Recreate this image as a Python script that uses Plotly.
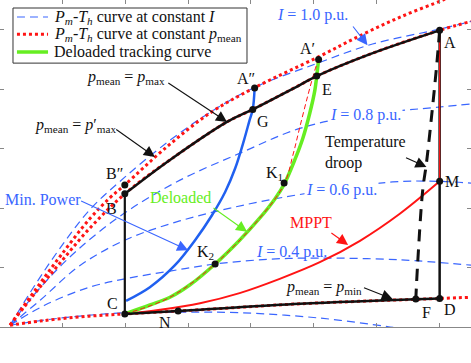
import plotly.graph_objects as go

# ---- constant-current curves (blue dashed) ----
i10_x = [0.16, 0.56, 0.96, 1.43, 1.99, 2.71, 3.35, 4.06, 5.02, 5.94, 7.01, 7.51]
i10_y = [0.03, 0.71, 1.33, 1.97, 2.52, 3.14, 3.61, 4.03, 4.42, 4.76, 5.01, 5.14]
i08_x = [0.16, 0.64, 1.23, 1.99, 2.87, 3.82, 4.78, 5.74, 7.01, 7.51]
i08_y = [0.03, 0.66, 1.29, 1.92, 2.47, 2.92, 3.34, 3.56, 3.70, 3.75]
i06_x = [0.16, 0.64, 1.27, 1.99, 2.79, 3.67, 4.73, 6.26, 7.01, 7.51]
i06_y = [0.03, 0.45, 1.03, 1.46, 1.76, 2.00, 2.22, 2.44, 2.45, 2.42]
i04_x = [0.16, 0.72, 1.43, 1.99, 2.71, 3.43, 4.30, 5.10, 6.37, 7.51]
i04_y = [0.03, 0.37, 0.67, 0.81, 0.94, 1.06, 1.14, 1.16, 1.13, 1.04]
i02_x = [0.16, 0.96, 1.99, 2.87, 3.82, 5.10, 6.22, 6.70]
i02_y = [0.03, 0.15, 0.24, 0.25, 0.24, 0.15, 0.00, -0.08]

# ---- constant mean-power curves (red dotted) ----
pmaxp_x = [0.16, 0.56, 0.96, 1.43, 1.75, 1.99, 2.66, 3.35, 4.05, 5.07, 5.78, 6.42, 7.06, 7.33]
pmaxp_y = [0.03, 0.62, 1.19, 1.82, 2.17, 2.39, 3.03, 3.60, 4.02, 4.54, 4.92, 5.23, 5.50, 5.63]
pmax_x = [0.16, 0.56, 0.96, 1.43, 1.99, 2.71, 3.62, 4.03, 4.78, 5.05, 5.90, 7.01, 7.51]
pmax_y = [0.03, 0.57, 1.08, 1.66, 2.24, 2.81, 3.45, 3.66, 4.07, 4.22, 4.59, 4.99, 5.14]
pmin_x = [0.16, 0.64, 1.27, 1.99, 3.19, 4.78, 7.01, 7.51]
pmin_y = [0.03, 0.10, 0.17, 0.22, 0.29, 0.39, 0.48, 0.50]

# ---- operating trajectories ----
mppt_x = [1.99, 2.55, 3.19, 3.82, 4.46, 5.10, 5.74, 6.37, 7.01]
mppt_y = [0.22, 0.29, 0.40, 0.57, 0.81, 1.09, 1.45, 1.90, 2.45]
am_x = [7.01, 7.01]
am_y = [4.99, 2.45]
minp_x = [2.01, 2.39, 2.79, 3.11, 3.38, 3.59, 3.75, 3.89, 3.98, 4.03, 4.06]
minp_y = [0.44, 0.67, 1.04, 1.46, 1.88, 2.27, 2.67, 3.14, 3.48, 3.66, 4.02]
del_x = [1.99, 2.39, 2.71, 3.03, 3.43, 3.82, 4.14, 4.38, 4.53, 4.70, 4.83, 4.94, 5.02, 5.05, 5.08]
del_y = [0.22, 0.37, 0.50, 0.71, 1.06, 1.46, 1.83, 2.15, 2.40, 2.81, 3.18, 3.60, 3.98, 4.22, 4.50]
delr_x = [1.99, 2.71, 3.43, 4.14, 4.53, 4.67, 4.78, 4.91, 5.02, 5.08]
delr_y = [0.22, 0.50, 1.06, 1.83, 2.40, 2.89, 3.36, 3.90, 4.32, 4.50]
droop_x = [7.01, 6.96, 6.88, 6.80, 6.74, 6.66, 6.63]
droop_y = [4.99, 4.37, 3.53, 2.76, 2.30, 1.08, 0.47]
bc_x = [1.99, 1.99]
bc_y = [2.24, 0.22]
ad_x = [7.01, 7.01]
ad_y = [4.99, 0.48]

# ---- labelled points ----
pt_names = ["A", "A′", "A″", "B", "B″", "C", "D", "E", "F", "G", "K<sub>1</sub>", "K<sub>2</sub>", "M", "N"]
pt_x = [7.01, 5.08, 4.06, 1.99, 1.99, 1.99, 7.01, 5.05, 6.63, 4.03, 4.53, 3.43, 7.01, 2.84]
pt_y = [4.99, 4.50, 4.02, 2.24, 2.39, 0.22, 0.48, 4.22, 0.47, 3.66, 2.42, 1.06, 2.45, 0.27]
lab_x = [7.17, 4.91, 3.92, 1.78, 1.83, 1.80, 7.17, 5.21, 6.80, 4.19, 4.37, 3.28, 7.20, 2.63]
lab_y = [4.79, 4.69, 4.18, 2.00, 2.59, 0.40, 0.29, 4.00, 0.25, 3.45, 2.59, 1.26, 2.45, 0.08]

# ---- legend entries ----
leg_names = [
    "<i>P</i><sub><i>m</i></sub>-<i>T</i><sub><i>h</i></sub> curve at constant <i>I</i>",
    "<i>P</i><sub><i>m</i></sub>-<i>T</i><sub><i>h</i></sub> curve at constant <i>p</i><sub>mean</sub>",
    "Deloaded tracking curve",
]

BLUE = "#3a66ff"
BLUE_S = "#2060f0"
RED = "#ff1414"
GREEN = "#66ee22"
BLACK = "#111111"
SERIF = "Liberation Serif"
FS = 16

leg_styles = [dict(color=BLUE, width=1.2, dash="8px,5px"),
              dict(color=RED, width=3, dash="dot"),
              dict(color=GREEN, width=3.5)]

fig = go.Figure()


def line(x, y, color, width, dash=None, spline=True):
    fig.add_trace(go.Scatter(
        x=x, y=y, mode="lines", showlegend=False, hoverinfo="skip",
        line=dict(color=color, width=width, dash=dash,
                  shape="spline" if spline else "linear")))


for xs, ys in [(i10_x, i10_y), (i08_x, i08_y), (i06_x, i06_y), (i04_x, i04_y), (i02_x, i02_y)]:
    line(xs, ys, BLUE, 1.2, "8px,5px")
for xs, ys in [(pmaxp_x, pmaxp_y), (pmax_x, pmax_y), (pmin_x, pmin_y)]:
    line(xs, ys, RED, 3, "dot")

line(mppt_x, mppt_y, RED, 2)
line(minp_x, minp_y, BLUE_S, 2.5)
line(del_x, del_y, GREEN, 3.5)
line(delr_x, delr_y, RED, 1, "5px,3px")
line(pmax_x[4:12], pmax_y[4:12], BLACK, 2.5)
line(pmin_x[3:7], pmin_y[3:7], BLACK, 2.5)
line(bc_x, bc_y, BLACK, 2.2, spline=False)
line(ad_x, ad_y, BLACK, 2.5, spline=False)
line(am_x, am_y, RED, 1.2, spline=False)
line(droop_x, droop_y, BLACK, 3, "12px,8px")

fig.add_trace(go.Scatter(x=pt_x, y=pt_y, mode="markers", showlegend=False, hoverinfo="skip",
                         marker=dict(color=BLACK, size=7)))

ann = []
for n, x, y in zip(pt_names, lab_x, lab_y):
    ann.append(dict(x=x, y=y, text=n, showarrow=False, font=dict(family=SERIF, size=FS, color=BLACK)))

# text, x, y, colour, anchor, masked background
texts = [
    ("<i>I</i> = 1.0 p.u.", 4.99, 5.24, BLUE, "center", False),
    ("<i>I</i> = 0.8 p.u.", 5.83, 3.56, BLUE, "center", True),
    ("<i>I</i> = 0.6 p.u.", 5.45, 2.30, BLUE, "center", True),
    ("<i>I</i> = 0.4 p.u.", 4.64, 1.26, BLUE, "center", False),
    ("Min. Power", 0.05, 2.15, BLUE, "left", False),
    ("Deloaded", 2.88, 2.18, GREEN, "center", False),
    ("MPPT", 4.96, 1.75, RED, "center", False),
    ("Temperature<br>droop", 5.15, 2.94, BLACK, "left", False),
    ("<i>p</i><sub>mean</sub> = <i>p</i><sub>max</sub>", 2.01, 4.20, BLACK, "center", False),
    ("<i>p</i><sub>mean</sub> = <i>p</i>′<sub>max</sub>", 1.20, 3.39, BLACK, "center", False),
    ("<i>p</i><sub>mean</sub> = <i>p</i><sub>min</sub>", 5.16, 0.67, BLACK, "center", False),
]
for t, x, y, c, a, m in texts:
    d = dict(x=x, y=y, text=t, showarrow=False, xanchor=a, align="left",
             font=dict(family=SERIF, size=FS, color=c))
    if m:
        d["bgcolor"] = "white"
    ann.append(d)

arrows = [
    (5.61, 5.08, 5.86, 4.74, BLUE),
    (2.66, 4.12, 3.62, 3.45, BLACK),
    (1.83, 3.34, 2.47, 2.86, BLACK),
    (1.27, 2.13, 3.00, 1.29, BLUE),
    (3.38, 2.02, 3.94, 1.60, GREEN),
    (5.26, 1.60, 5.55, 1.38, RED),
    (6.45, 2.86, 6.80, 2.69, BLACK),
    (5.78, 0.67, 6.26, 0.47, BLACK),
]
for tx, ty, hx, hy, c in arrows:
    ann.append(dict(x=hx, y=hy, ax=tx, ay=ty, xref="x", yref="y", axref="x", ayref="y",
                    text="", showarrow=True, arrowhead=2, arrowsize=2, arrowwidth=1.1, arrowcolor=c))

# hand-built legend box (paper coordinates)
shapes = [dict(type="rect", xref="paper", yref="paper", x0=0.0276, x1=0.5244, y0=0.807, y1=0.9755,
               line=dict(color="#333", width=1), fillcolor="white", layer="above")]
row_y = [0.948, 0.895, 0.841]
for st, ry, nm in zip(leg_styles, row_y, leg_names):
    shapes.append(dict(type="line", xref="paper", yref="paper", x0=0.036, x1=0.102, y0=ry, y1=ry,
                       line=st, layer="above"))
    ann.append(dict(x=0.1104, y=ry, xref="paper", yref="paper", text=nm, showarrow=False,
                    xanchor="left", yanchor="middle", font=dict(family=SERIF, size=FS, color=BLACK)))

axis_common = dict(showgrid=False, zeroline=False, showticklabels=False, ticks="inside", ticklen=4,
                   tickcolor="#888", showline=True, linecolor="#888", linewidth=1, mirror="ticks")
fig.update_layout(
    width=471, height=363,
    margin=dict(l=0, r=0, t=0, b=36),
    paper_bgcolor="white", plot_bgcolor="white",
    xaxis=dict(range=[0, 7.51], tickvals=[1, 2, 3, 4, 5, 6, 7], **axis_common),
    yaxis=dict(range=[0, 5.5], tickvals=[1, 2, 3, 4, 5], **axis_common),
    annotations=ann,
    shapes=shapes,
    showlegend=False,
)
fig.write_html("out.html", config={"displayModeBar": False},
               post_script="document.body.style.margin='0px';")
